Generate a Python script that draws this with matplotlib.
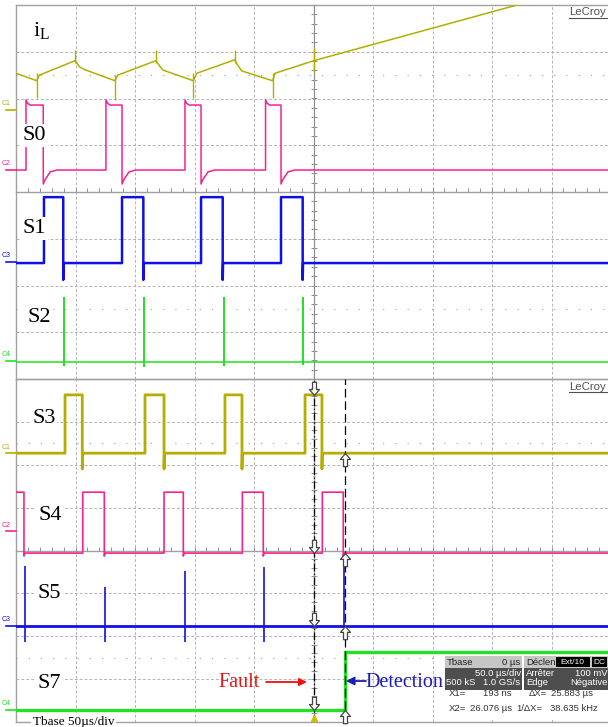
import numpy as np
import matplotlib.pyplot as plt
from matplotlib.path import Path
from matplotlib.patches import Rectangle

plt.rcParams['font.family'] = ['Liberation Serif', 'DejaVu Sans']
plt.rcParams['mathtext.fontset'] = 'custom'
plt.rcParams['mathtext.rm'] = 'Liberation Serif'

OLIVE = '#b3ae00'
PINK = '#f5228f'
BLUE = '#1010e6'
GREEN = '#22e022'
GRID = '#b4b4b4'
FRAME = '#a0a0a0'

W, H = 608, 727
T_SPAN = (-250.0, 250.0)   # 50 us/div, 10 div, trigger in the middle

# ---------- upper capture (levels in divisions, 0..8) ----------
iL_t = [-250.0, -232.6, -230.4, -200.2, -196.8, -192.6, -166.8, -164.5, -132.3,
        -130.9, -126.7, -101.0, -98.1, -66.0, -64.6, -60.3, -34.3, -32.4, 0.4,
        171.0, 250.0]
iL_v = [6.54, 6.38, 6.50, 6.81, 6.68, 6.62, 6.38, 6.50, 6.81,
        6.75, 6.61, 6.38, 6.54, 6.83, 6.75, 6.59, 6.38, 6.54, 6.81,
        8.00, 8.55]
iL_spike_t = [-232.6, -200.2, -166.8, -132.3, -101.0, -66.0, -34.3, 0.4]
iL_spike_lo = [6.01, 6.75, 5.97, 6.75, 6.01, 6.75, 6.01, 6.57]
iL_spike_hi = [6.54, 7.04, 6.50, 7.04, 6.54, 7.04, 6.54, 7.08]

S0_rise = [-241.6, -174.4, -108.0, -40.3]
S0_fall = [-227.1, -160.9, -94.5, -27.3]
S0_low, S0_high = 4.47, 5.86
S0_top = [(0, 5.97), (1.3, 5.90), (3.4, 5.86)]
S0_tail = [(0, 4.17), (1.4, 4.26), (5.9, 4.43), (11.5, 4.47)]

S1_rise = [-226.5, -160.9, -94.5, -27.3]
S1_fall = [-210.3, -143.0, -76.3, -9.1]
S1_low, S1_high = 2.48, 3.89
S1_tail = [(0, 2.12), (0.3, 2.48)]

S2_base = 0.37
S2_spike_t = [-209.4, -142.4, -75.2, -8.6]
S2_spike_hi = [1.75, 1.75, 1.75, 1.75]
S2_spike_lo = [0.28, 0.26, 0.28, 0.30]

# ---------- lower capture ----------
S3_rise = [-208.8, -141.6, -74.4, -7.1]
S3_fall = [-194.3, -125.6, -60.1, 7.1]
S3_low, S3_high = 6.27, 7.63
S3_tail = [(0, 5.90), (0.3, 6.27)]

S4_rise = [-193.9, -125.6, -59.8, 7.4]
S4_fall = [-243.3, -175.8, -109.4, -42.2, 25.0]   # trace starts high
S4_low, S4_high = 3.94, 5.36
S4_tail = [(0, 3.87), (0.6, 3.94)]

S5_base = 2.24
S5_spike_t = [-242.4, -175.2, -108.0, -41.3, 25.6]
S5_spike_hi = [3.64, 3.15, 3.52, 3.62, 3.75]
S5_spike_lo = [1.87, 1.87, 1.87, 1.87, 2.24]

S7_low, S7_high = 0.28, 1.63
S7_step = 26.5

X1, X2 = 0.193, 26.076   # cursors, us
X1_marks = [S3_high, S4_low, S5_base, S7_low]
X2_marks = [S3_low, S4_low, S5_base, S7_low]


def pulse_train(rises, falls, low, high, top=None, tail=None, start_high=False):
    top = top or [(0, high)]
    tail = tail or [(0, low)]
    t, v = [T_SPAN[0]], [high if start_high else low]
    starts = ([None] if start_high else []) + list(rises)
    for r, f in zip(starts, falls):
        if r is not None:
            t.append(r); v.append(low)
            for dt, lv in top:
                t.append(r + dt); v.append(lv)
        t.append(f); v.append(high)
        for dt, lv in tail:
            t.append(f + dt); v.append(lv)
    t.append(T_SPAN[1]); v.append(low)
    return t, v


def spikes(ax, base, ts, his, los, color, lw_base, lw_spike):
    ax.plot(T_SPAN, [base, base], color=color, lw=lw_base, zorder=2)
    ax.vlines(ts, los, his, color=color, lw=lw_spike, zorder=2)


def screen(bottom_px, height_px):
    ax = fig.add_axes([16 / W, (H - bottom_px) / H, 595 / W, height_px / H])
    ax.set_xlim(*T_SPAN)
    ax.set_ylim(0, 8)
    ax.axis('off')
    dash = dict(color=GRID, lw=0.7, ls=(0, (3, 2)), zorder=0)
    for x in np.arange(-200, 250, 50):
        if x != 0:
            ax.axvline(x, **dash)
    for y in [1, 2, 3, 5, 6, 7]:
        ax.axhline(y, **dash)
    for y in [1.5, 6.5]:
        ax.axhline(y, color='#a0a0a0', lw=0.8, ls=(0, (1, 10)), zorder=0)
    solid = dict(color=FRAME, lw=1.0, zorder=0, clip_on=False)
    for y in [0, 4, 8]:
        ax.axhline(y, **solid)
    ax.axvline(-250, **solid)
    ax.axvline(0, color='#909090', lw=0.9, zorder=0)
    ax.plot(np.zeros(39), np.arange(0.2, 7.9, 0.2), ls='none', marker='_',
            ms=5, mew=0.7, color='#909090', zorder=0)
    ax.plot(np.arange(-240, 250, 10), np.full(49, 4.04), ls='none', marker='|',
            ms=3, mew=0.7, color='#909090', zorder=0)
    return ax


def label(ax, t, d, s, size=16):
    ax.text(t, d, s, fontsize=size, ha='left', va='baseline', zorder=4,
            bbox=dict(facecolor='white', edgecolor='none', pad=1.5))


def chan_mark(ax, d, name, color):
    ax.plot([-258, -250], [d, d], color=color, lw=1.2, clip_on=False)
    ax.text(-262, d + 0.06, name, fontsize=5, color=color,
            family='Liberation Sans', ha='left', va='bottom')


def lecroy(ax, d):
    ax.text(215, d, 'LeCroy', fontsize=8.2, color='#505050',
            family='Liberation Sans', ha='left', va='baseline')
    ax.plot([215, 252], [d - 0.05, d - 0.05], color='#505050', lw=0.8, clip_on=False)


fig = plt.figure(figsize=(W / 100, H / 100), dpi=100)

# ================= upper screen =================
top = screen(379, 374)
top.plot(iL_t, iL_v, color=OLIVE, lw=1.1, zorder=2)
top.vlines(iL_spike_t, iL_spike_lo, iL_spike_hi, color=OLIVE, lw=1.0, zorder=2)
top.plot(*pulse_train(S0_rise, S0_fall, S0_low, S0_high, S0_top, S0_tail),
         color=PINK, lw=1.1, zorder=2)
top.plot(*pulse_train(S1_rise, S1_fall, S1_low, S1_high, tail=S1_tail),
         color=BLUE, lw=1.8, zorder=2)
spikes(top, S2_base, S2_spike_t, S2_spike_hi, S2_spike_lo, GREEN, 1.1, 1.4)

label(top, -235.7, 7.32, r'i$_{\mathregular{L}}$', 16)
label(top, -244.9, 5.11, 'S0')
label(top, -244.9, 3.12, 'S1')
label(top, -240.7, 1.22, 'S2')
for d, name, c in [(5.75, 'C1', OLIVE), (4.47, 'C2', PINK), (2.51, 'C3', BLUE), (0.385, 'C4', GREEN)]:
    chan_mark(top, d, name, c)
lecroy(top, 7.78)

# ================= lower screen =================
bot = screen(722, 343)
bot.plot(*pulse_train(S3_rise, S3_fall, S3_low, S3_high, tail=S3_tail),
         color=OLIVE, lw=2.0, zorder=2)
bot.plot(*pulse_train(S4_rise, S4_fall, S4_low, S4_high, tail=S4_tail, start_high=True),
         color=PINK, lw=1.2, zorder=2)
spikes(bot, S5_base, S5_spike_t, S5_spike_hi, S5_spike_lo, BLUE, 2.0, 1.2)
bot.plot([T_SPAN[0], S7_step, S7_step, T_SPAN[1]], [S7_low, S7_low, S7_high, S7_high],
         color=GREEN, lw=2.4, zorder=2)

# cursors
bot.axvline(X1, color='black', lw=0.9, ls=(0, (6, 2, 1, 2)), zorder=3)
bot.axvline(X2, color='black', lw=0.9, ls=(0, (7, 3)), zorder=3)
down_arrow = Path([(0, 0), (-0.38, 0.45), (-0.15, 0.45), (-0.15, 1.0),
                   (0.15, 1.0), (0.15, 0.45), (0.38, 0.45), (0, 0)],
                  [Path.MOVETO] + [Path.LINETO] * 6 + [Path.CLOSEPOLY])
up_arrow = Path(down_arrow.vertices * [1, -1], down_arrow.codes)
bot.plot([X1] * len(X1_marks), X1_marks, ls='none', marker=down_arrow, ms=19,
         mfc='white', mec='#444444', mew=0.9, zorder=6)
bot.plot([X2] * len(X2_marks), X2_marks, ls='none', marker=up_arrow, ms=19,
         mfc='white', mec='#444444', mew=0.9, zorder=6, clip_on=False)
bot.plot([X1], [0.1], ls='none', marker='^', ms=5, color='#c8c000', clip_on=False, zorder=7)

label(bot, -236.5, 6.97, 'S3')
label(bot, -231.5, 4.71, 'S4')
label(bot, -232.3, 2.89, 'S5')
label(bot, -232.3, 0.79, 'S7')
for d, name, c in [(6.27, 'C1', OLIVE), (4.45, 'C2', PINK), (2.24, 'C3', BLUE), (0.28, 'C4', GREEN)]:
    chan_mark(bot, d, name, c)
lecroy(bot, 7.74)

# annotations
bot.text(-80.2, 0.816, 'Fault', fontsize=14.5, color='#f01010', ha='left', va='baseline', zorder=7)
bot.annotate('', xy=(-5.5, 0.933), xytext=(-39.9, 0.933),
             arrowprops=dict(arrowstyle='-|>', color='#f01010', lw=1.3,
                             mutation_scale=11, shrinkA=0, shrinkB=0), zorder=7)
bot.text(43.3, 0.816, 'Detection', fontsize=14.5, color='#1c1cb8', ha='left', va='baseline', zorder=7)
bot.annotate('', xy=(27.3, 0.956), xytext=(44.1, 0.956),
             arrowprops=dict(arrowstyle='-|>', color='#1c1cb8', lw=1.3,
                             mutation_scale=12, shrinkA=0, shrinkB=0), zorder=7)
bot.text(-235.7, -0.07, 'Tbase 50\u00b5s/div', fontsize=9.5, ha='left', va='baseline', zorder=7,
         bbox=dict(facecolor='white', edgecolor='none', pad=1.2))

# scope info panel
bot.add_patch(Rectangle((108, 0.04), 145, 1.52, facecolor='white', edgecolor='none', zorder=5, clip_on=False))
for x0, x1 in [(110.5, 175.2), (176.9, 253)]:
    bot.add_patch(Rectangle((x0, 0.746), x1 - x0, 0.52, facecolor='#4e4e4e', edgecolor='none', zorder=6, clip_on=False))
    bot.add_patch(Rectangle((x0, 1.266), x1 - x0, 0.27, facecolor='#c6c6c6', edgecolor='none', zorder=6, clip_on=False))
for x0, x1 in [(203.5, 232.3), (234.0, 246.5)]:
    bot.add_patch(Rectangle((x0, 1.29), x1 - x0, 0.22, facecolor='black', edgecolor='none', zorder=7))
info = dict(fontsize=6.8, family='Liberation Sans', va='center', zorder=8)
bot.text(112.2, 1.39, 'Tbase', color='#222222', ha='left', **info)
bot.text(173.8, 1.39, '0 \u00b5s', color='#222222', ha='right', **info)
bot.text(178.5, 1.39, 'D\u00e9clen', color='#222222', ha='left', **info)
bot.text(217.9, 1.39, 'Ext/10', color='white', ha='center', fontsize=6, family='Liberation Sans', va='center', zorder=8)
bot.text(240.2, 1.39, 'DC', color='white', ha='center', fontsize=6, family='Liberation Sans', va='center', zorder=8)
bot.text(174.4, 1.14, '50.0 \u00b5s/div', color='white', ha='right', **info)
bot.text(178.5, 1.14, 'Arr\u00eater', color='white', ha='left', **info)
bot.text(247.0, 1.14, '100 mV', color='white', ha='right', **info)
bot.text(111.5, 0.91, '500 kS', color='white', ha='left', **info)
bot.text(174.0, 0.91, '1.0 GS/s', color='white', ha='right', **info)
bot.text(178.5, 0.91, 'Edge', color='white', ha='left', **info)
bot.text(247.0, 0.91, 'N\u00e9gative', color='white', ha='right', **info)
bot.text(113.9, 0.66, 'X1=', color='#333333', ha='left', **info)
bot.text(166.8, 0.66, '193 ns', color='#333333', ha='right', **info)
bot.text(180.5, 0.66, '\u0394X=', color='#333333', ha='left', **info)
bot.text(234.5, 0.66, '25.883 \u00b5s', color='#333333', ha='right', **info)
bot.text(113.9, 0.31, 'X2=', color='#333333', ha='left', **info)
bot.text(166.8, 0.31, '26.076 \u00b5s', color='#333333', ha='right', **info)
bot.text(170.5, 0.31, '1/\u0394X=', color='#333333', ha='left', **info)
bot.text(239.0, 0.31, '38.635 kHz', color='#333333', ha='right', **info)

fig.savefig('out.png', dpi=100)
